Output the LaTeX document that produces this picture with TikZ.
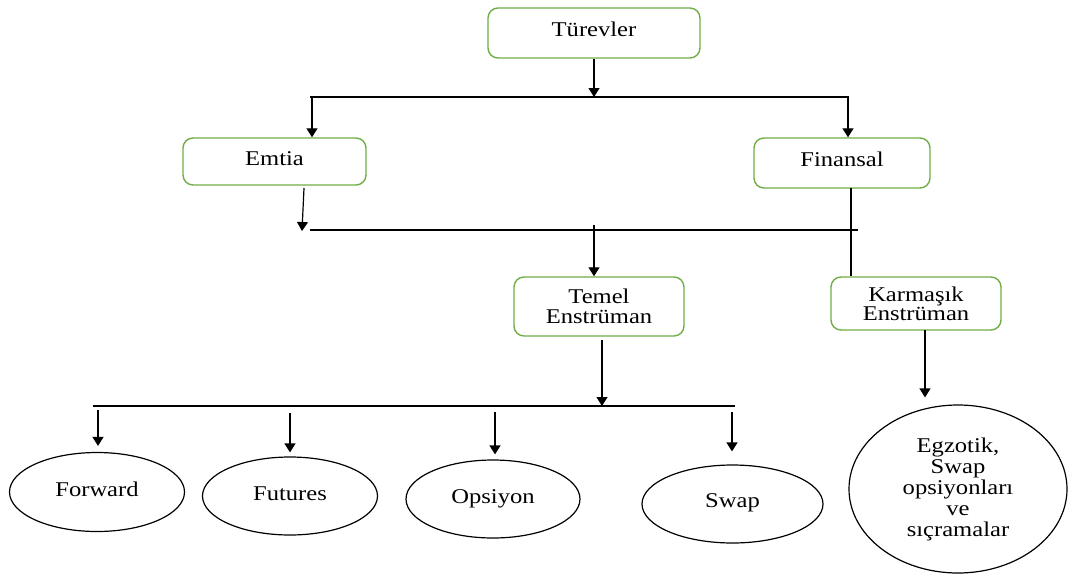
\documentclass[tikz,border=0pt]{standalone}
\usepackage{fontspec}
\setmainfont{Liberation Serif}[FakeStretch=1.17]
\usetikzlibrary{arrows.meta,shapes.geometric}
\definecolor{boxgreen}{HTML}{70AD47}
\begin{document}
\begin{tikzpicture}[x=1pt,y=-1pt,
  every node/.style={font=\fontsize{21}{20.5}\selectfont, align=center, inner sep=0pt},
  gbox/.style={draw=boxgreen, line width=1.4pt, rounded corners=10pt, rectangle},
  oval/.style={draw=black, line width=1.2pt, ellipse},
  ln/.style={line width=1.2pt},
  arr/.style={line width=1.2pt, -{Triangle[width=11pt,length=9pt]}}]
\useasboundingbox (0,0) rectangle (1068,573);
% boxes
\node[gbox, minimum width=212pt, minimum height=50pt] (tur) at (594,33) {\raisebox{8pt}{Türevler}};
\node[gbox, minimum width=183pt, minimum height=47pt] (emtia) at (274.5,161.5) {\raisebox{5pt}{Emtia}};
\node[gbox, minimum width=176pt, minimum height=50pt] (fin) at (842,163) {\raisebox{7pt}{Finansal}};
\node[gbox, minimum width=170pt, minimum height=59pt] (temel) at (599,306.5) {Temel\\Enstrüman};
\node[gbox, minimum width=170pt, minimum height=53pt, font=\fontsize{21}{17}\selectfont] (karm) at (916,303.5) {Karmaşık\\Enstrüman};
% ellipses
\node[oval, minimum width=175pt, minimum height=79pt] (fwd) at (97,492) {\raisebox{6pt}{Forward}};
\node[oval, minimum width=175pt, minimum height=78pt] (fut) at (290,496) {\raisebox{5pt}{Futures}};
\node[oval, minimum width=174pt, minimum height=78pt] (ops) at (493,499) {\raisebox{5pt}{Opsiyon}};
\node[oval, minimum width=181pt, minimum height=78pt] (swp) at (732.5,504) {\raisebox{6pt}{Swap}};
\node[oval, minimum width=218pt, minimum height=168pt, font=\fontsize{21}{21}\selectfont] (egz) at (958,489) {Egzotik,\\Swap\\opsiyonları\\ve\\sıçramalar};
% junction coordinates
\coordinate (h1L) at (310,97);
\coordinate (h1R) at (849,97);
\coordinate (h1a) at (312,97);
\coordinate (h1b) at (848,97);
\coordinate (h2L) at (310,230);
\coordinate (h2R) at (858,230);
\coordinate (e0) at (304,188);
\coordinate (e1) at (302,231);
\coordinate (f0) at (851,188);
\coordinate (t0) at (594,225);
\coordinate (h3L) at (93,406);
\coordinate (h3R) at (735,406);
\coordinate (tb) at (602,340);
\coordinate (d1) at (98,410);
\coordinate (d2) at (290,413);
\coordinate (d3) at (495,412);
\coordinate (d4) at (732,412);
\coordinate (kb) at (925,330);
% connectors
\draw[arr] (tur.south) -- (tur.south |- h1L);
\draw[ln] (h1L) -- (h1R);
\draw[arr] (h1a) -- (h1a |- emtia.north);
\draw[arr] (h1b) -- (h1b |- fin.north);
\draw[arr] (e0) -- (e1);
\draw[ln] (h2L) -- (h2R);
\draw[ln] (f0) -- (f0 |- karm.north);
\draw[arr] (t0) -- (t0 |- temel.north);
\draw[arr] (tb) -- (tb |- h3L);
\draw[ln] (h3L) -- (h3R);
\draw[arr, shorten >=6pt] (d1) -- (d1 |- fwd.north);
\draw[arr, shorten >=4pt] (d2) -- (d2 |- fut.north);
\draw[arr, shorten >=5pt] (d3) -- (d3 |- ops.north);
\draw[arr, shorten >=13pt] (d4) -- (d4 |- swp.north);
\draw[arr, shorten >=7pt] (kb) -- (kb |- egz.north);
\end{tikzpicture}
\end{document}
